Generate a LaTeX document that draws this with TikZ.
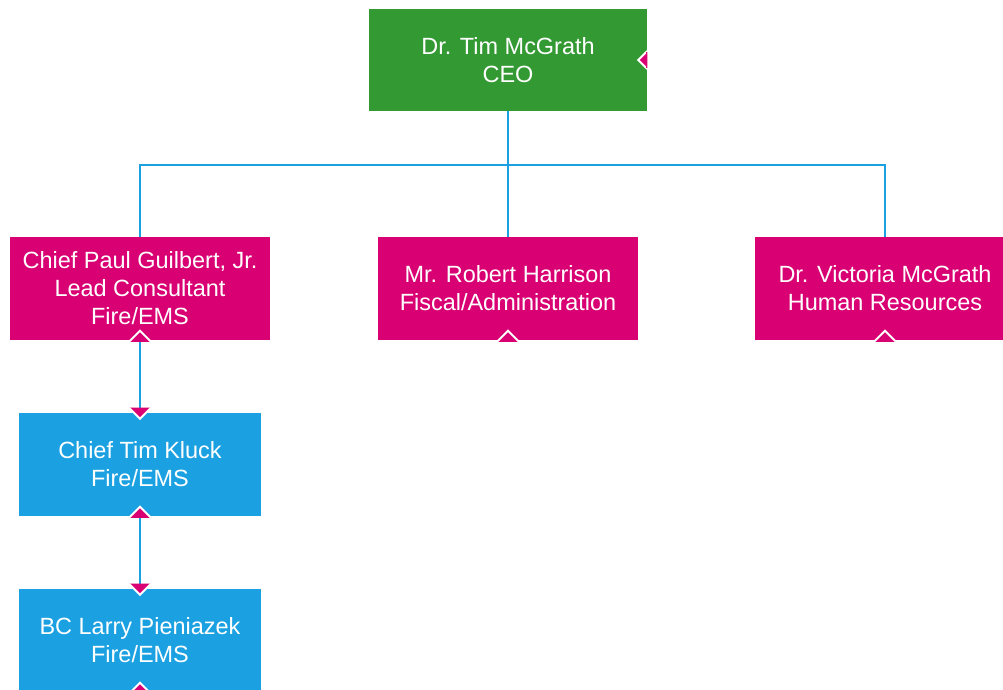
\documentclass[tikz,border=0pt]{standalone}
\usepackage{fontspec}
\setmainfont{Liberation Sans}
\definecolor{ceogreen}{HTML}{339933}
\definecolor{mgpink}{HTML}{D80073}
\definecolor{staffblue}{HTML}{1BA1E2}
\begin{document}
\begin{tikzpicture}[x=0.75pt,y=-0.75pt,
  box/.style={rectangle, inner sep=0pt, text=white, align=center,
    font=\fontsize{17.6}{21}\selectfont},
  ceobox/.style={box, fill=ceogreen, minimum width=278*0.75pt, minimum height=102*0.75pt},
  leadbox/.style={box, fill=mgpink, minimum width=260*0.75pt, minimum height=103*0.75pt},
  staffbox/.style={box, fill=staffblue, minimum width=242*0.75pt, minimum height=103*0.75pt},
  conn/.style={draw=staffblue, line width=2.2pt},
  marker/.style={fill=mgpink, draw=white, line width=1.4pt, line join=miter}]
\clip (0,0) rectangle (1003,689);
\fill[white] (0,0) rectangle (1003,689);

% boxes
\node[ceobox]   (ceo) at (508,60)    {Dr. Tim McGrath\\CEO};
\node[leadbox]  (pl)  at (140,288.5) {Chief Paul Guilbert, Jr.\\Lead Consultant\\Fire/EMS};
\node[leadbox]  (pm)  at (508,288.5) {Mr. Robert Harrison\\Fiscal/Administration};
\node[leadbox]  (pr)  at (885,288.5) {Dr. Victoria McGrath\\Human Resources};
\node[staffbox] (s1)  at (140,464.5) {Chief Tim Kluck\\Fire/EMS};
\node[staffbox] (s2)  at (140,640.5) {BC Larry Pieniazek\\Fire/EMS};

% reporting lines
\coordinate (bus) at (508,165);
\draw[conn] (ceo.south) -- (bus) -| (pl.north);
\draw[conn] (bus) -| (pr.north);
\draw[conn] (bus) -- (pm.north);
\draw[conn] (pl.south) -- (s1.north);
\draw[conn] (s1.south) -- (s2.north);

% collapse markers
\draw[marker] ([shift={(0,-9)}]ceo.east) -- ++(-9,9) -- ++(9,9);
\fill[mgpink] ([shift={(-1,-8)}]ceo.east) rectangle ([shift={(0,8)}]ceo.east);
\foreach \b in {pl,pm,pr,s1,s2}{
  \draw[marker] ([shift={(-11,1.5)}]\b.south) -- ++(11,-11) -- ++(11,11);
}
\foreach \b in {s1,s2}{
  \draw[marker] ([shift={(-11,-5)}]\b.north) -- ++(11,11) -- ++(11,-11);
}
\end{tikzpicture}
\end{document}
